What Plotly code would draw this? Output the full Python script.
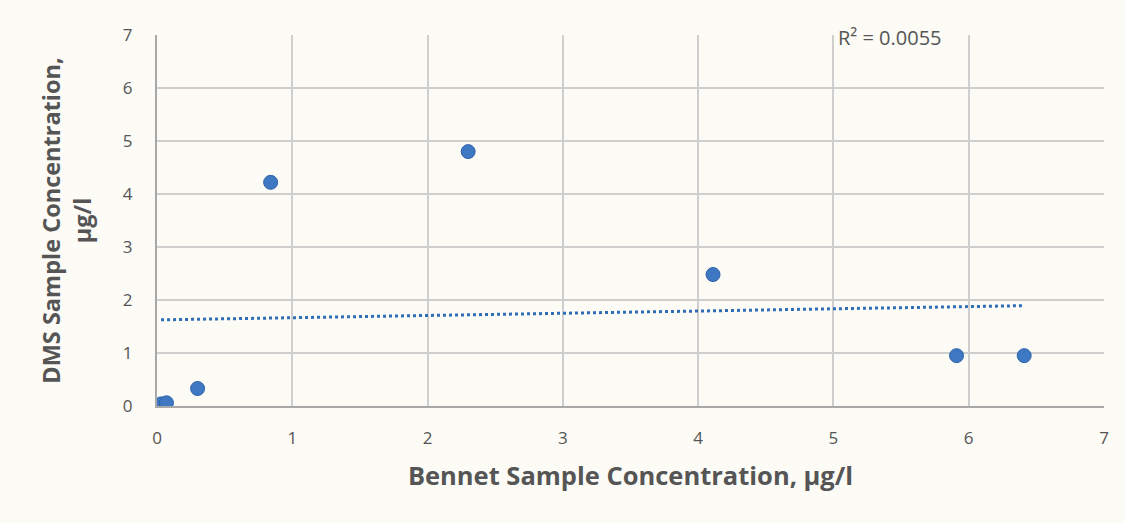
import numpy as np
import plotly.graph_objects as go

bennet = [0.03, 0.07, 0.30, 0.84, 2.30, 4.11, 5.91, 6.41]
dms = [0.04, 0.06, 0.33, 4.22, 4.80, 2.48, 0.95, 0.95]
r2_label = "R² = 0.0055"
x_title = "Bennet Sample Concentration, µg/l"
y_title = "DMS Sample Concentration,<br>µg/l"

slope, intercept = np.polyfit(bennet, dms, 1)
tx = [min(bennet), max(bennet)]
ty = [intercept + slope * v for v in tx]

bg = "#fcfbf6"
fig = go.Figure()
fig.add_trace(go.Scatter(x=tx, y=ty, mode="lines",
                         line=dict(color="#2f6db5", width=3, dash="dot"),
                         hoverinfo="skip", showlegend=False))
fig.add_trace(go.Scatter(x=bennet, y=dms, mode="markers",
                         marker=dict(color="#3f78c2", size=14,
                                     line=dict(color="#2c62a8", width=1)),
                         showlegend=False))

font_family = "Open Sans, Liberation Sans, sans-serif"
fig.update_layout(
    width=1125, height=523,
    margin=dict(l=157, r=21, t=35, b=117),
    paper_bgcolor=bg, plot_bgcolor=bg,
    font=dict(family=font_family, color="#555555"),
    xaxis=dict(range=[0, 7], dtick=1, showgrid=True, gridcolor="#cfcfcf",
               gridwidth=1.5, zeroline=False, showline=True, linecolor="#a8a8a8",
               linewidth=2, mirror=False, ticks="", ticklabelstandoff=16,
               tickfont=dict(size=17, color="#555"),
               title=dict(text=x_title, font=dict(size=25.5, color="#555", weight="bold"),
                          standoff=19)),
    yaxis=dict(range=[0, 7], dtick=1, showgrid=True, gridcolor="#cfcfcf",
               gridwidth=1.5, zeroline=False, showline=True, linecolor="#a8a8a8",
               linewidth=2, ticks="", ticklabelstandoff=19,
               tickfont=dict(size=17, color="#555"),
               title=dict(text=y_title, font=dict(size=23.5, color="#555", weight="bold"),
                          standoff=25)),
    annotations=[dict(x=5.42, y=7, xref="x", yref="y", text=r2_label, showarrow=False,
                      xanchor="center", yanchor="middle", yshift=-2,
                      font=dict(size=20, color="#555"), bgcolor=bg)],
)
fig.write_html("out.html", config={"displayModeBar": False},
               post_script="document.body.style.margin='0';document.body.style.background='%s';" % bg)
